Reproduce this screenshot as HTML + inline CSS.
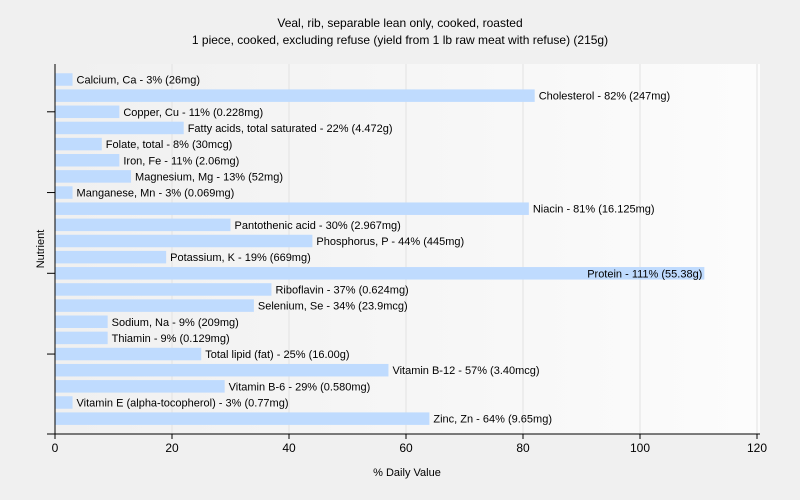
<!DOCTYPE html>
<html><head><meta charset="utf-8"><style>
body{margin:0;background:#f0f0f0;font-family:"Liberation Sans",sans-serif;}
svg{display:block}
</style></head><body>
<svg width="800" height="500" xmlns="http://www.w3.org/2000/svg">
<defs><linearGradient id="bg" x1="0" x2="1" y1="0" y2="0"><stop offset="0" stop-color="#f0f0f0"/><stop offset="1" stop-color="#fcfcfc"/></linearGradient></defs>
<rect width="800" height="500" fill="#f0f0f0"/>
<text x="400" y="27" text-anchor="middle" font-size="12" fill="#000">Veal, rib, separable lean only, cooked, roasted</text>
<text x="400" y="44" text-anchor="middle" font-size="12" fill="#000">1 piece, cooked, excluding refuse (yield from 1 lb raw meat with refuse) (215g)</text>
<rect x="55" y="64" width="705" height="370" fill="url(#bg)"/>
<g id="grid"></g>
<g id="bars"></g>
<g id="axes"></g>
<text x="44" y="249" transform="rotate(-90 44 249)" text-anchor="middle" font-size="11">Nutrient</text>
<text x="407" y="476" text-anchor="middle" font-size="11">% Daily Value</text>
</svg>
<script>
const labels=["Calcium, Ca - 3% (26mg)","Cholesterol - 82% (247mg)","Copper, Cu - 11% (0.228mg)","Fatty acids, total saturated - 22% (4.472g)","Folate, total - 8% (30mcg)","Iron, Fe - 11% (2.06mg)","Magnesium, Mg - 13% (52mg)","Manganese, Mn - 3% (0.069mg)","Niacin - 81% (16.125mg)","Pantothenic acid - 30% (2.967mg)","Phosphorus, P - 44% (445mg)","Potassium, K - 19% (669mg)","Protein - 111% (55.38g)","Riboflavin - 37% (0.624mg)","Selenium, Se - 34% (23.9mcg)","Sodium, Na - 9% (209mg)","Thiamin - 9% (0.129mg)","Total lipid (fat) - 25% (16.00g)","Vitamin B-12 - 57% (3.40mcg)","Vitamin B-6 - 29% (0.580mg)","Vitamin E (alpha-tocopherol) - 3% (0.77mg)","Zinc, Zn - 64% (9.65mg)"];
const values=[3,82,11,22,8,11,13,3,81,30,44,19,111,37,34,9,9,25,57,29,3,64];
const xTicks=[0,20,40,60,80,100,120];
const NS="http://www.w3.org/2000/svg";
const x0=55,x1=757,xMax=120,yTop=79.5,step=16.15,bh=12.5,yBot=434;
const xs=v=>x0+(x1-x0)*v/xMax;
const ys=i=>yTop+i*step;
function mk(t,a,p){const e=document.createElementNS(NS,t);for(const k in a)e.setAttribute(k,a[k]);p.appendChild(e);return e;}
const grid=document.getElementById('grid'),bars=document.getElementById('bars'),axes=document.getElementById('axes');
xTicks.forEach(t=>{
 if(t>0){const g=mk('line',{x1:xs(t),x2:xs(t),y1:64,y2:yBot,stroke:'#e2e2e2'},grid);
 
 }
 const tk=mk('line',{x1:xs(t),x2:xs(t),y1:yBot,y2:yBot+5,stroke:'#000'},axes);
 
 
 const tl=mk('text',{x:xs(t),y:yBot+18,'text-anchor':'middle','font-size':12},axes);tl.textContent=t;
 
 
});
values.forEach((v,i)=>{
 const r=mk('rect',{x:x0,y:ys(i)-bh/2,width:xs(v)-x0,height:bh,fill:'#bfdbfe'},bars);
 
 
 const t=mk('text',{x:xs(v)+4,y:ys(i)+4,'font-size':11,fill:'#000'},bars);t.textContent=labels[i];
 
 
 const w=t.getComputedTextLength();
 if(xs(v)+4+w>760){t.setAttribute('x',xs(v)-2);t.setAttribute('text-anchor','end');}
});
const ya=mk('line',{x1:x0,x2:x0,y1:64,y2:yBot,stroke:'#000'},axes);


const xa=mk('line',{x1:x0-8,x2:760,y1:yBot,y2:yBot,stroke:'#000'},axes);


[2,7,12,17].forEach((k,j)=>{
 const l=mk('line',{x1:x0-8,x2:x0,y1:ys(k),y2:ys(k),stroke:'#000'},axes);
 
 
});
</script>
</body></html>
